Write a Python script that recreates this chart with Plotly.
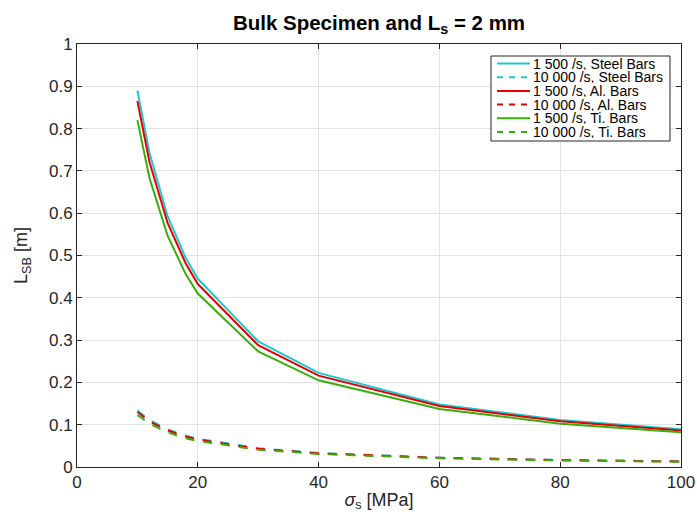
import plotly.graph_objects as go

sigma = [10, 12, 15, 18, 20, 30, 40, 60, 80, 100]

steel_1500 = [0.890, 0.742, 0.593, 0.494, 0.445, 0.297, 0.2225, 0.148, 0.111, 0.089]
al_1500 = [0.865, 0.721, 0.577, 0.481, 0.4325, 0.288, 0.216, 0.144, 0.108, 0.0865]
ti_1500 = [0.820, 0.683, 0.547, 0.456, 0.410, 0.273, 0.205, 0.137, 0.1025, 0.082]

steel_10000 = [0.1335, 0.111, 0.089, 0.074, 0.067, 0.0445, 0.033, 0.022, 0.0167, 0.0134]
al_10000 = [0.130, 0.108, 0.0865, 0.072, 0.065, 0.043, 0.0324, 0.0216, 0.0162, 0.013]
ti_10000 = [0.123, 0.1025, 0.082, 0.068, 0.0615, 0.041, 0.0308, 0.0205, 0.0154, 0.0123]

names = ["1 500 /s, Steel Bars", "10 000 /s, Steel Bars",
         "1 500 /s, Al. Bars", "10 000 /s, Al. Bars",
         "1 500 /s, Ti. Bars", "10 000 /s, Ti. Bars"]
series = [steel_1500, steel_10000, al_1500, al_10000, ti_1500, ti_10000]
colors = ["#1cc9d1", "#1cc9d1", "#e30000", "#e30000", "#3aad0c", "#3aad0c"]
dashes = ["solid", "dash", "solid", "dash", "solid", "dash"]

W, H = 697, 518
ML, MR, MT, MB = 77, 16, 44, 51
PW, PH = W - ML - MR, H - MT - MB

def px_x(p):
    return (p - ML) / PW

def px_y(p):
    return (H - MB - p) / PH

fig = go.Figure()
for n, s, c, d in zip(names, series, colors, dashes):
    fig.add_trace(go.Scatter(x=sigma, y=s, mode="lines", name=n, showlegend=False,
                             line=dict(color=c, width=2, dash=d)))

# custom legend box (MATLAB-like compact legend)
shapes = [dict(type="rect", xref="paper", yref="paper",
               x0=px_x(491), x1=px_x(670), y0=px_y(141), y1=px_y(56),
               line=dict(color="#262626", width=1), fillcolor="white", layer="above")]
annotations = []
row0, row_step = 63.5, 13.7
for i, (n, c, d) in enumerate(zip(names, colors, dashes)):
    yc = px_y(row0 + i * row_step)
    shapes.append(dict(type="line", xref="paper", yref="paper",
                       x0=px_x(497), x1=px_x(530), y0=yc, y1=yc,
                       line=dict(color=c, width=2, dash="solid" if d == "solid" else "6px,6px"),
                       layer="above"))
    annotations.append(dict(text=n, xref="paper", yref="paper", x=px_x(532), y=yc,
                            xanchor="left", yanchor="middle", showarrow=False,
                            height=12, borderpad=0, valign="middle",
                            font=dict(size=14, color="black")))

axis_common = dict(
    showline=True, linecolor="#262626", linewidth=1, mirror="ticks",
    ticks="inside", ticklen=5, tickcolor="#262626",
    showgrid=True, gridcolor="#e3e3e3", gridwidth=1, zeroline=False,
    tickfont=dict(size=17, color="#262626"), automargin=False,
)

fig.update_layout(
    width=W, height=H,
    margin=dict(l=ML, r=MR, t=MT, b=MB),
    paper_bgcolor="white", plot_bgcolor="white",
    font=dict(family="Liberation Sans, Arial, sans-serif", color="#262626"),
    title=dict(text="<b>Bulk Specimen and L<sub>s</sub> = 2 mm</b>",
               x=0.5, xref="paper", xanchor="center", y=1 - 23 / H, yanchor="middle",
               font=dict(size=20.5, color="black")),
    xaxis=dict(range=[0, 100], tickvals=[0, 20, 40, 60, 80, 100],
               title=dict(text="<i>σ</i><sub>s</sub> [MPa]", font=dict(size=18), standoff=1),
               **axis_common),
    yaxis=dict(range=[0, 1], tickvals=[0, 0.1, 0.2, 0.3, 0.4, 0.5, 0.6, 0.7, 0.8, 0.9, 1],
               ticktext=["0", "0.1", "0.2", "0.3", "0.4", "0.5", "0.6", "0.7", "0.8", "0.9", "1"],
               title=dict(text="L<sub>SB</sub> [m]", font=dict(size=18), standoff=16),
               **axis_common),
    shapes=shapes,
    annotations=annotations,
    showlegend=False,
)

fig.write_html("out.html")
